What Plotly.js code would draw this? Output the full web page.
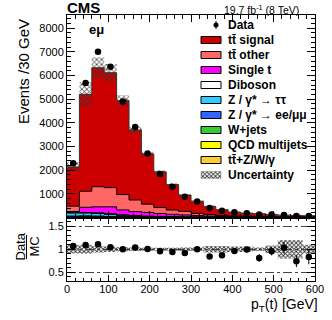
<!DOCTYPE html>
<html><head><meta charset="utf-8">
<script src="https://cdn.plot.ly/plotly-3.0.1.min.js"></script>
<style>html,body{margin:0;padding:0;background:#fff}</style>
</head><body><div id="chart" style="width:332px;height:320px"></div>
<script>
// ---- data ----
const binEdges = [0,30,60,90,120,150,180,210,240,270,300,330,360,390,420,450,480,510,540,570,600];
const dataCounts   = [2295,5690,7010,6370,4900,3830,2705,1840,1305,875,680,398,283,222,184,130,124,103,67,62];
const ratioValues  = [1.072,1.094,1.109,1.043,1.0,1.036,1.007,0.957,0.942,0.92,1.0,0.84,0.87,0.964,0.993,0.81,0.957,1.03,0.74,0.833];
const ratioErrors  = [0.01,0.01,0.01,0.01,0.012,0.015,0.018,0.022,0.026,0.03,0.035,0.04,0.05,0.06,0.065,0.083,0.09,0.13,0.127,0.16];
const ttSignal     = [1660,4096,5029,4859,3980,2960,2125,1510,1075,693,519,348,238,166,133,117,95,73,66,55];
const ttOther      = [227,680,850,810,650,490,350,250,180,150,90,61,42,30,24,21,17,13,12,10];
const singleTop    = [52,220,250,290,205,165,155,125,100,80,60,45,33,25,20,16,13,10,9,7];
const diboson      = [15,25,30,30,25,25,20,17,15,12,10,8,6,5,4,3,3,3,2,2];
const zTauTau      = [125,115,110,85,55,35,22,15,11,9,6,4,3,2,2,1,1,1,1,1];
const zEeMuMu      = [40,40,30,20,14,10,6,4,3,2,2,1,1,1,1,1,0,0,0,0];
const wJets        = [10,12,10,8,6,4,3,2,1,1,1,1,1,0,0,0,0,0,0,0];
const qcdMultijets = [3,4,3,2,2,1,1,1,1,0,0,0,0,0,0,0,0,0,0,0];
const ttV          = [8,15,18,16,13,10,8,6,4,3,2,2,1,1,1,1,1,0,0,0];
const uncertaintyRel = [0.09,0.10,0.07,0.06,0.045,0.04,0.035,0.035,0.035,0.04,0.04,0.07,0.07,0.06,0.06,0.04,0.08,0.2,0.2,0.1];

const labels = ['tt\u0304 signal','tt\u0304 other','Single t','Diboson','Z / \u03b3* \u2192 \u03c4\u03c4','Z / \u03b3* \u2192 ee/\u03bc\u03bc','W+jets','QCD multijets','tt\u0304+Z/W/\u03b3'];
const colors = ['#cc0000','#ff6666','#ff00ff','#ffffff','#33ccff','#3366ff','#33cc33','#ffff00','#ffcc33'];
const samples = [ttSignal, ttOther, singleTop, diboson, zTauTau, zEeMuMu, wJets, qcdMultijets, ttV];

// ---- geometry ----
const W=332, H=320, ML=67, MR=17, MT=15, MB=39;
const PW=W-ML-MR, PH=H-MT-MB;
const ySplit = 217.5;                 // pixel boundary main / ratio
const ratioFrac = (H-MB-ySplit)/PH;
const xp = px => (px-ML)/PW;
const yp = py => (H-MB-py)/PH;

// ---- build stacks ----
const nb = ttSignal.length;
const centers = binEdges.slice(0,nb).map((e,i)=>(e+binEdges[i+1])/2);
function stepY(arr){ return arr.concat([arr[arr.length-1]]); }
const cum = [];
let run = new Array(nb).fill(0);
for (let k=samples.length-1;k>=0;k--){
  run = run.map((v,i)=>v+samples[k][i]);
  cum[k] = run.slice();
}
const total = cum[0];

const traces = [];
for (let k=0;k<samples.length;k++){
  traces.push({x:binEdges, y:stepY(cum[k]), type:'scatter', mode:'lines',
    line:{shape:'hv', color: k===0?'#333':'#000', width:1},
    fill:'tozeroy', fillcolor:colors[k], xaxis:'x', yaxis:'y', hoverinfo:'skip'});
}
const pat = {shape:'x', fgcolor:'#333', bgcolor:'rgba(0,0,0,0)', size:3.5, solidity:0.4};
traces.push({x:binEdges, y:stepY(total.map((v,i)=>v*(1-uncertaintyRel[i]))), type:'scatter', mode:'lines',
  line:{shape:'hv', width:0}, xaxis:'x', yaxis:'y', hoverinfo:'skip'});
traces.push({x:binEdges, y:stepY(total.map((v,i)=>v*(1+uncertaintyRel[i]))), type:'scatter', mode:'lines',
  line:{shape:'hv', width:0}, fill:'tonexty', fillcolor:'rgba(0,0,0,0)', fillpattern:pat, xaxis:'x', yaxis:'y', hoverinfo:'skip'});
traces.push({x:centers, y:dataCounts, type:'scatter', mode:'markers',
  marker:{color:'#000', size:6.5}, xaxis:'x', yaxis:'y', cliponaxis:false});

// ratio panel
traces.push({x:binEdges, y:stepY(uncertaintyRel.map(u=>1-u)), type:'scatter', mode:'lines',
  line:{shape:'hv', width:0}, xaxis:'x2', yaxis:'y2', hoverinfo:'skip'});
traces.push({x:binEdges, y:stepY(uncertaintyRel.map(u=>1+u)), type:'scatter', mode:'lines',
  line:{shape:'hv', width:0}, fill:'tonexty', fillcolor:'rgba(0,0,0,0)',
  fillpattern:{shape:'x', fgcolor:'#333', bgcolor:'rgba(0,0,0,0)', size:3, solidity:0.5}, xaxis:'x2', yaxis:'y2', hoverinfo:'skip'});
traces.push({x:centers, y:ratioValues, type:'scatter', mode:'markers',
  marker:{color:'#000', size:6.5},
  error_y:{type:'data', array:ratioErrors, width:0, thickness:1, color:'#000'},
  xaxis:'x2', yaxis:'y2'});

// ---- legend (manual, pixel coordinates on overlay axes x3/y3) ----
const shapes = [];
const annotations = [];
const font = 'Liberation Sans, Arial, sans-serif';
const legBoxX0=201, legBoxX1=221, legTextX=226, legY0=25, legStep=15;
annotations.push({xref:'x3',yref:'y3',x:legTextX,y:legY0,text:'<b>Data</b>',showarrow:false,xanchor:'left',yanchor:'middle',font:{family:font,size:12,color:'#000'}});
traces.push({x:[216],y:[legY0],type:'scatter',mode:'markers',marker:{color:'#000',size:5},
  error_y:{type:'constant',value:4,width:0,thickness:1,color:'#000'},xaxis:'x3',yaxis:'y3',hoverinfo:'skip'});
for (let k=0;k<labels.length;k++){
  const cy = legY0+legStep*(k+1);
  shapes.push({type:'rect',xref:'x3',yref:'y3',x0:legBoxX0,x1:legBoxX1,y0:cy-3.5,y1:cy+3.5,
    fillcolor:colors[k],line:{color:'#000',width:1},layer:'above'});
  annotations.push({xref:'x3',yref:'y3',x:legTextX,y:cy,text:'<b>'+labels[k]+'</b>',showarrow:false,xanchor:'left',yanchor:'middle',font:{family:font,size:12,color:'#000'}});
}
{
  const cy = legY0+legStep*(labels.length+1);
  traces.push({x:[legBoxX0,legBoxX1,legBoxX1,legBoxX0,legBoxX0],y:[cy-3.5,cy-3.5,cy+3.5,cy+3.5,cy-3.5],
    type:'scatter',mode:'lines',line:{color:'#888',width:0.5},fill:'toself',fillcolor:'rgba(0,0,0,0)',
    fillpattern:{shape:'x', fgcolor:'#333', bgcolor:'rgba(0,0,0,0)', size:3, solidity:0.5},xaxis:'x3',yaxis:'y3',hoverinfo:'skip'});
  annotations.push({xref:'x3',yref:'y3',x:legTextX,y:cy,text:'<b>Uncertainty</b>',showarrow:false,xanchor:'left',yanchor:'middle',font:{family:font,size:12,color:'#000'}});
}

// ---- other text ----
annotations.push({xref:'paper',yref:'paper',x:xp(65),y:yp(8),text:'<b>CMS</b>',showarrow:false,xanchor:'left',yanchor:'middle',font:{family:font,size:15,color:'#000'}});
annotations.push({xref:'paper',yref:'paper',x:xp(301),y:yp(10),text:'19.7 fb<sup>-1</sup> (8 TeV)',showarrow:false,xanchor:'right',yanchor:'middle',font:{family:font,size:10.5,color:'#000'}});
annotations.push({xref:'paper',yref:'paper',x:xp(87),y:yp(29),text:'<b>e\u03bc</b>',showarrow:false,xanchor:'left',yanchor:'middle',font:{family:font,size:13,color:'#000'}});
annotations.push({xref:'paper',yref:'paper',x:xp(23.5),y:yp(71.5),text:'Events /30 GeV',textangle:-90,showarrow:false,xanchor:'center',yanchor:'middle',font:{family:font,size:15,color:'#000'}});
annotations.push({xref:'paper',yref:'paper',x:xp(320),y:yp(305),text:'p<sub>T</sub>(t) [GeV]',showarrow:false,xanchor:'right',yanchor:'middle',font:{family:font,size:14,color:'#000'}});
annotations.push({xref:'paper',yref:'paper',x:xp(19.5),y:yp(247),text:'Data',textangle:-90,showarrow:false,xanchor:'center',yanchor:'middle',font:{family:font,size:13,color:'#000'}});
annotations.push({xref:'paper',yref:'paper',x:xp(33.5),y:yp(247),text:'MC',textangle:-90,showarrow:false,xanchor:'center',yanchor:'middle',font:{family:font,size:13,color:'#000'}});
shapes.push({type:'line',xref:'paper',yref:'paper',x0:xp(26.5),x1:xp(26.5),y0:yp(235),y1:yp(259),line:{color:'#000',width:1}});

const axBase = {showline:true, linecolor:'#000', linewidth:1, mirror:'allticks', ticks:'inside', tickcolor:'#000',
  zeroline:false, showgrid:false, automargin:false, tickfont:{family:font,size:11,color:'#000'}};

const layout = {
  width:W, height:H, margin:{l:ML,r:MR,t:MT,b:MB,pad:0},
  paper_bgcolor:'#fff', plot_bgcolor:'rgba(0,0,0,0)', showlegend:false,
  xaxis: Object.assign({}, axBase, {domain:[0,1], anchor:'y', range:[0,600], tickmode:'linear', tick0:0, dtick:100, ticklen:7,
     minor:{tickmode:'linear', tick0:0, dtick:20, ticklen:3.5, ticks:'inside', tickcolor:'#000'}, showticklabels:false}),
  yaxis: Object.assign({}, axBase, {domain:[ratioFrac,1], anchor:'x', range:[0,8560], tickmode:'array',
     tickvals:[1000,2000,3000,4000,5000,6000,7000,8000], ticklen:8,
     minor:{tickmode:'linear', tick0:0, dtick:200, ticklen:4, ticks:'inside', tickcolor:'#000'}}),
  xaxis2: Object.assign({}, axBase, {domain:[0,1], anchor:'y2', matches:'x', range:[0,600], tickmode:'linear', tick0:0, dtick:100, ticklen:6,
     ticklabelstandoff:-2,
     minor:{tickmode:'linear', tick0:0, dtick:20, ticklen:3, ticks:'inside', tickcolor:'#000'}}),
  yaxis2: Object.assign({}, axBase, {domain:[0,ratioFrac], anchor:'x2', range:[0.31,1.69], tickmode:'array',
     tickvals:[0.5,1,1.5], ticktext:['0.5','1','1.5'], ticklen:8, showgrid:true, gridcolor:'#444', griddash:'dashdot', gridwidth:1,
     minor:{tickmode:'linear', tick0:0, dtick:0.1, ticklen:4, ticks:'inside', tickcolor:'#000'}}),
  xaxis3: {overlaying:'x', range:[ML, W-MR], visible:false, fixedrange:true},
  yaxis3: {overlaying:'y', range:[ySplit, MT], visible:false, fixedrange:true},
  shapes: shapes, annotations: annotations
};
Plotly.newPlot('chart', traces, layout, {staticPlot:true, displayModeBar:false});
</script></body></html>
